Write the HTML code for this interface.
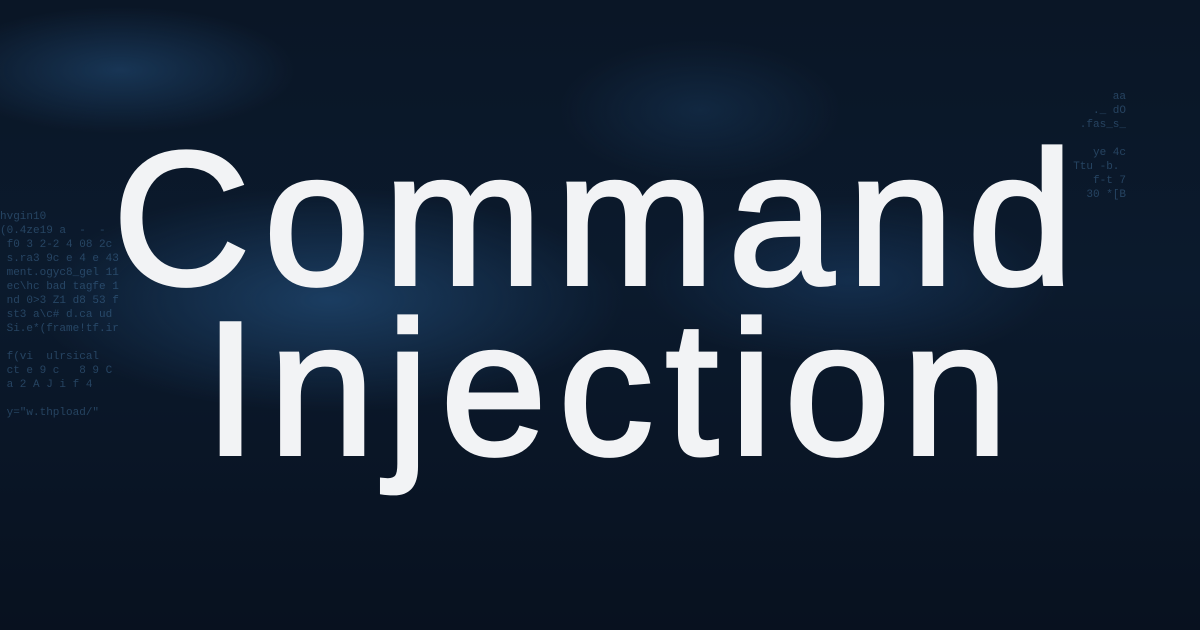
<!DOCTYPE html>
<html><head><meta charset="utf-8"><style>
html,body{margin:0;padding:0}
body{width:1200px;height:630px;overflow:hidden;position:relative;
background:
radial-gradient(ellipse 420px 160px at 330px 300px, rgba(40,90,140,0.55), rgba(0,0,0,0) 70%),
radial-gradient(ellipse 300px 120px at 850px 280px, rgba(30,70,115,0.45), rgba(0,0,0,0) 70%),
radial-gradient(ellipse 250px 90px at 120px 70px, rgba(40,90,140,0.45), rgba(0,0,0,0) 70%),
radial-gradient(ellipse 200px 100px at 700px 110px, rgba(30,70,110,0.35), rgba(0,0,0,0) 70%),
linear-gradient(180deg,#0a1626 0%,#0b1a2d 45%,#08111f 100%);}
.code{position:absolute;font-family:"Liberation Mono",monospace;color:rgba(90,150,200,0.35);font-size:11px;line-height:14px;white-space:pre;}
.t{position:absolute;left:0;width:1200px;text-align:center;color:#f2f3f5;font-family:"Liberation Sans",sans-serif;font-weight:400;font-size:190px;line-height:1;-webkit-text-stroke:4px #f2f3f5;}
</style></head><body>
<div class="code" style="left:0;top:210px">hvgin10
(0.4ze19 a  -  -  - 
 f0 3 2-2 4 08 2c 
 s.ra3 9c e 4 e 43
 ment.ogyc8_gel 11
 ec\hc bad tagfe 1
 nd 0>3 Z1 d8 53 f
 st3 a\c# d.ca ud 
 Si.e*(frame!tf.ir

 f(vi  ulrsical  
 ct e 9 c   8 9 C
 a 2 A J i f 4  

 y="w.thpload/"
</div>
<div class="code" style="left:1060px;top:90px;text-align:right">        aa
     ._ dO
   .fas_s_

    ye 4c
 Ttu -b. 
   f-t 7
  30 *[B
</div>
<div class="t" style="top:124px;letter-spacing:14px;padding-left:0px">Command</div>
<div class="t" style="top:294px;letter-spacing:12px;padding-left:12px">Injection</div>
</body></html>
